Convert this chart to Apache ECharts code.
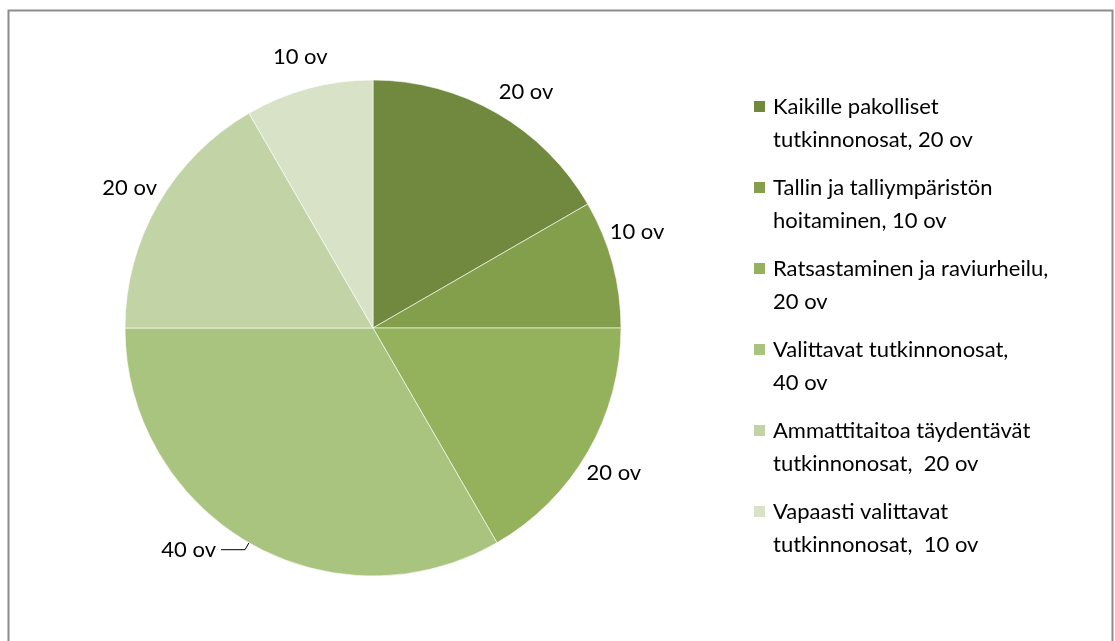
<!DOCTYPE html>
<html>
<head>
<meta charset="utf-8">
<script src="https://cdn.jsdelivr.net/npm/echarts@6/dist/echarts.min.js"></script>
<style>
  html, body { margin: 0; padding: 0; background: #fff; }
  #pie { width: 1115px; height: 641px; }
</style>
</head>
<body>
<div id="pie"></div>
<script>
// tutkinnon osat
const nimet = [
  'Kaikille pakolliset\ntutkinnonosat, 20 ov',
  'Tallin ja talliympäristön\nhoitaminen, 10 ov',
  'Ratsastaminen ja raviurheilu,\n20 ov',
  'Valittavat tutkinnonosat,\n40 ov',
  'Ammattitaitoa täydentävät\ntutkinnonosat,  20 ov',
  'Vapaasti valittavat\ntutkinnonosat,  10 ov'
]
const arvot = [20, 10, 20, 40, 20, 10]
const varit = ['#71893f', '#839f4b', '#94b25b', '#a9c47e', '#c2d3a5', '#d7e2c6']

const keski = [373, 328]
const sade = 248
const labelSade = 281
// excel siirtää pari tekstiä vähän (asteina)
const siirto = [3, -5, 1, 0, 0, 0]

let chart = echarts.init(document.getElementById('pie'))

let summa = 0
arvot.forEach(v => { summa += v })

let data = []
arvot.forEach((v, i) => {
  data.push({
    name: nimet[i],
    value: v,
    itemStyle: { color: varit[i] },
    // vain 40 ov:lla on viiva
    labelLine: { show: i === 3 }
  })
})

// sektorin keskikulma datasta
function keskiKulma(i) {
  let alku = 0
  for (let j = 0; j < i; j++) alku += arvot[j]
  return (alku + arvot[i] / 2) / summa * 360 + siirto[i]
}

let option = {
  animation: false,
  textStyle: { fontFamily: 'Lato' },
  graphic: [{
    type: 'rect',
    silent: true,
    shape: { x: 8.5, y: 10.5, width: 1104, height: 700 },
    style: { fill: 'none', stroke: '#8c8c8c', lineWidth: 2 }
  }],
  legend: {
    orient: 'vertical',
    left: 747,
    top: 85,
    itemGap: 15,
    itemWidth: 13,
    itemHeight: 46,
    icon: 'path://M0,0h13v13h-13z M0,46L0.01,46',
    textStyle: { fontSize: 22, lineHeight: 33, color: '#000', fontFamily: 'Lato', padding: [0, 0, 0, 2] }
  },
  series: [{
    type: 'pie',
    center: keski,
    radius: sade,
    startAngle: 90,
    data: data,
    itemStyle: { borderColor: '#fff', borderWidth: 0.6 },
    label: {
      show: true,
      position: 'outside',
      formatter: '{c} ov',
      fontSize: 22,
      color: '#000',
      fontFamily: 'Lato'
    },
    labelLine: {
      length: 8,
      length2: 24,
      lineStyle: { color: '#000', width: 1 }
    },
    labelLayout: function (p) {
      if (p.dataIndex === 3) return {}
      let a = keskiKulma(p.dataIndex) * Math.PI / 180
      return {
        x: keski[0] + labelSade * Math.sin(a),
        y: keski[1] - labelSade * Math.cos(a),
        align: 'center',
        verticalAlign: 'middle'
      }
    }
  }]
}
chart.setOption(option)
</script>
</body>
</html>
